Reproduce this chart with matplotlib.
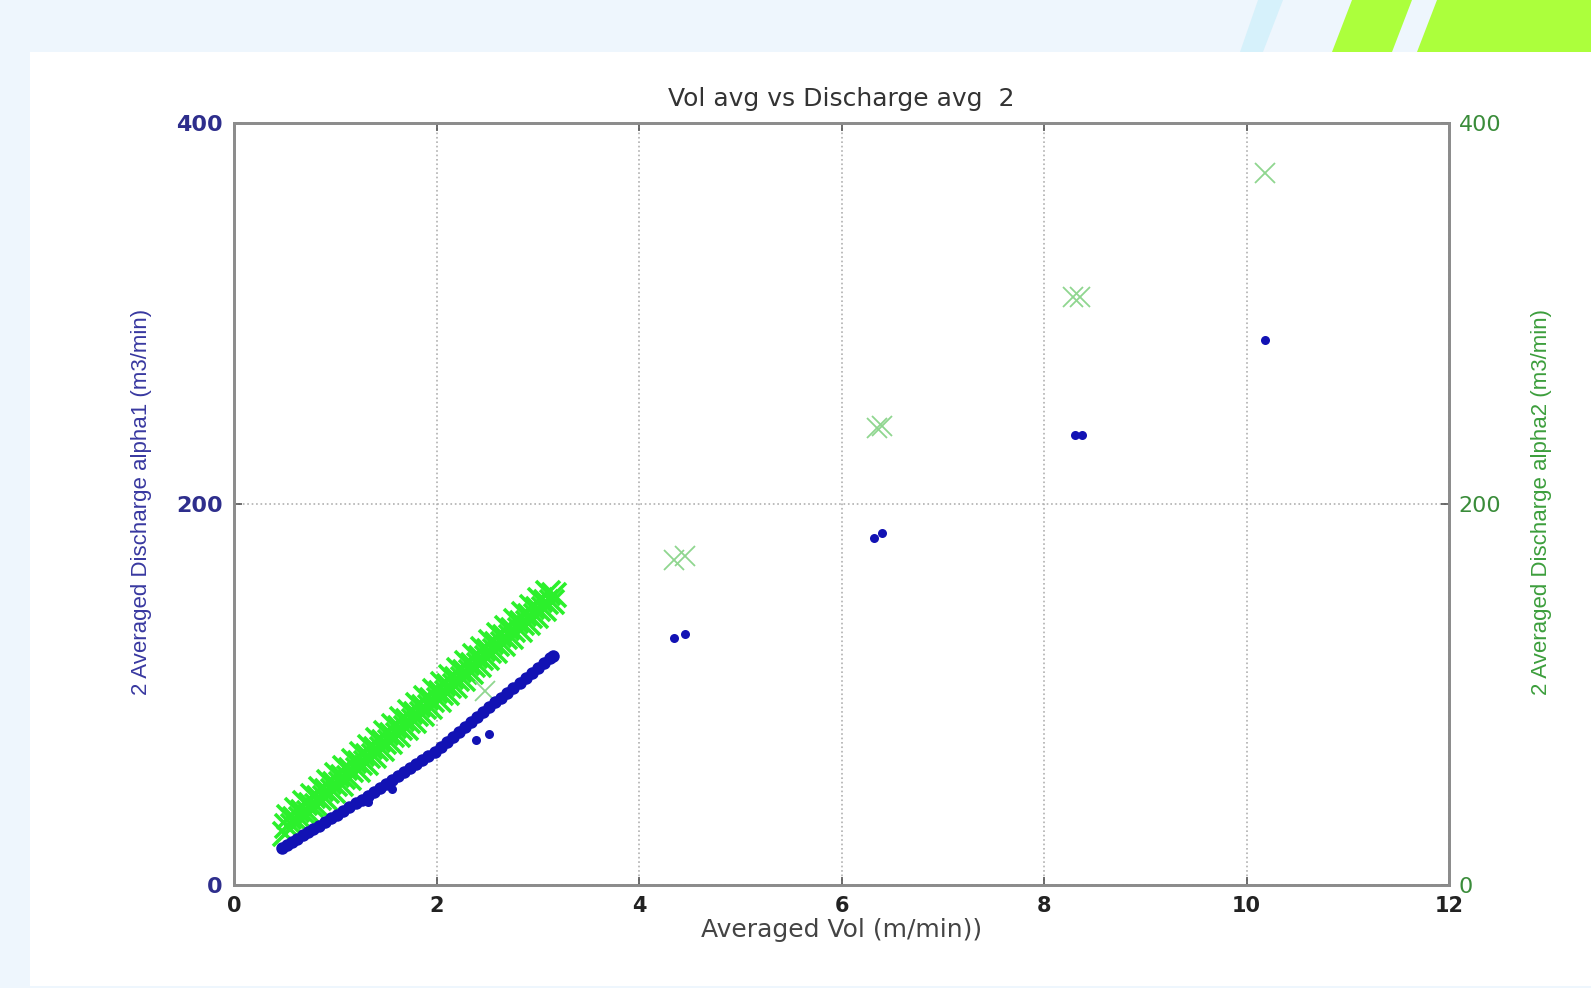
import matplotlib
matplotlib.use("Agg")
import matplotlib.pyplot as plt
from matplotlib.patches import Rectangle, Polygon

# values (Averaged Vol in m/min, discharge in m3/min)
vol_alpha1 = [0.47, 0.52, 0.57, 0.62, 0.68, 0.73, 0.78, 0.84, 0.90, 0.96,
              1.02, 1.08, 1.14, 1.20, 1.26, 1.32, 1.38, 1.44, 1.50, 1.56,
              1.62, 1.68, 1.74, 1.80, 1.86, 1.92, 1.98, 2.04, 2.10, 2.16,
              2.22, 2.28, 2.34, 2.40, 2.46, 2.52, 2.58, 2.64, 2.70, 2.76,
              2.82, 2.88, 2.94, 3.00, 3.06, 3.12, 3.15]
discharge_alpha1 = [19.5, 21.0, 22.5, 24.2, 26.0, 27.6, 29.2, 31.0, 33.0, 34.9,
                    36.8, 38.8, 40.8, 42.8, 44.7, 46.6, 48.8, 51.0, 53.0, 55.2,
                    57.3, 59.4, 61.5, 63.6, 65.8, 67.9, 70.0, 72.6, 75.2, 77.8,
                    80.3, 82.9, 85.5, 88.1, 90.7, 93.2, 95.8, 98.4, 101.0, 103.6,
                    106.1, 108.7, 111.3, 113.9, 116.4, 119.0, 120.0]

# scattered blue points off the main band
vol_alpha1_extra = [1.32, 1.56, 2.39, 2.52, 4.35, 4.45, 6.32, 6.40, 8.31, 8.37, 10.18]
discharge_alpha1_extra = [43.5, 50.3, 76.0, 79.5, 129.7, 131.8, 182.4, 184.8, 236.0, 236.2, 286.0]

# green band, upper and lower edge of the crosses
vol_alpha2 = [0.50, 0.54, 0.58, 0.62, 0.66, 0.70, 0.74, 0.78, 0.82, 0.86,
              0.90, 0.94, 0.98, 1.02, 1.06, 1.10, 1.14, 1.18, 1.22, 1.26,
              1.30, 1.34, 1.38, 1.42, 1.46, 1.50, 1.54, 1.58, 1.62, 1.66,
              1.70, 1.74, 1.78, 1.82, 1.86, 1.90, 1.94, 1.98, 2.02, 2.06,
              2.10, 2.14, 2.18, 2.22, 2.26, 2.30, 2.34, 2.38, 2.42, 2.46,
              2.50, 2.54, 2.58, 2.62, 2.66, 2.70, 2.74, 2.78, 2.82, 2.86,
              2.90, 2.94, 2.98, 3.02, 3.06, 3.10, 3.14]
discharge_alpha2 = [27.0, 35.5, 30.7, 39.2, 34.4, 42.9, 38.0, 46.6, 41.7, 50.3,
                    45.4, 54.0, 49.1, 57.6, 52.8, 61.3, 56.4, 65.0, 60.1, 68.7,
                    63.8, 72.4, 67.5, 76.0, 71.2, 79.7, 74.8, 83.4, 78.5, 87.1,
                    82.2, 90.8, 85.9, 94.4, 89.6, 98.1, 93.2, 101.8, 96.9, 105.5,
                    100.6, 109.1, 104.3, 112.8, 108.0, 116.5, 111.6, 120.2, 115.3, 123.9,
                    119.0, 127.5, 122.7, 131.2, 126.4, 134.9, 130.0, 138.6, 133.7, 142.3,
                    137.4, 145.9, 141.1, 149.6, 144.8, 153.3, 148.4]
# green band, middle row
vol_alpha2_mid = [0.52, 0.60, 0.68, 0.76, 0.84, 0.92, 1.00, 1.08, 1.16, 1.24,
                  1.32, 1.40, 1.48, 1.56, 1.64, 1.72, 1.80, 1.88, 1.96, 2.04,
                  2.12, 2.20, 2.28, 2.36, 2.44, 2.52, 2.60, 2.68, 2.76, 2.84,
                  2.92, 3.00, 3.08, 3.16]
discharge_alpha2_mid = [31.0, 34.6, 38.3, 42.0, 45.7, 49.3, 53.0, 56.7, 60.4, 64.1,
                        67.7, 71.4, 75.1, 78.8, 82.4, 86.1, 89.8, 93.5, 97.2, 100.8,
                        104.5, 108.2, 111.9, 115.6, 119.2, 122.9, 126.6, 130.3, 133.9, 137.6,
                        141.3, 145.0, 148.7, 152.3]

# scattered green points
vol_alpha2_extra = [2.48, 4.35, 4.45, 6.35, 6.40, 8.29, 8.35, 10.18]
discharge_alpha2_extra = [102.0, 170.5, 172.6, 239.7, 240.7, 308.9, 308.4, 373.5]

x_ticks = [0, 2, 4, 6, 8, 10, 12]
y_ticks = [0, 200, 400]

blue = '#1212b4'
green = '#2cf02c'
pale_green = '#8fd68f'
left_col = '#2e2e8c'
right_col = '#3a8c3a'

fig = plt.figure(figsize=(15.91, 9.88), dpi=100)
fig.patch.set_facecolor('#eef6fd')

# slide background: white panel plus the decorative stripes at the top right
fig.patches.append(Rectangle((30 / 1591, 2 / 988), 1 - 30 / 1591, (986 - 52) / 988,
                             transform=fig.transFigure, facecolor='white',
                             edgecolor='none', zorder=-5))
def px(x, y):
    return (x / 1591, 1 - y / 988)
for pts, col in [([(1240, 52), (1263, 52), (1283, 0), (1258, 0)], '#d6f1fb'),
                 ([(1332, 52), (1392, 52), (1412, 0), (1352, 0)], '#acff3c'),
                 ([(1417, 52), (1591, 52), (1591, 0), (1437, 0)], '#acff3c')]:
    fig.patches.append(Polygon([px(*p) for p in pts], closed=True,
                               transform=fig.transFigure, facecolor=col,
                               edgecolor='none', zorder=-5))

ax = fig.add_axes([0.1471, 0.1043, 0.7637, 0.7712])
ax2 = ax.twinx()

# both series share the same 0-400 range, so draw them on one axes to control overlap
ax.plot(vol_alpha2, discharge_alpha2, 'x', color=green, ms=17, mew=2.6, zorder=2)
ax.plot(vol_alpha2_mid, discharge_alpha2_mid, 'x', color=green, ms=17, mew=2.6, zorder=2)
ax.plot(vol_alpha2_extra, discharge_alpha2_extra, 'x', color=pale_green, ms=15, mew=1.3, zorder=2)
ax.plot(vol_alpha1, discharge_alpha1, 'o', color=blue, ms=9, mew=0, zorder=3)
ax.plot(vol_alpha1_extra, discharge_alpha1_extra, 'o', color=blue, ms=6.5, mew=0, zorder=3)

for a in (ax, ax2):
    a.set_xlim(0, 12)
    a.set_ylim(0, 400)
    a.set_yticks(y_ticks)
    for s in a.spines.values():
        s.set_color('#8c8c8c')
        s.set_linewidth(2)
ax.set_facecolor('white')
ax2.set_facecolor('none')
ax.set_xticks(x_ticks)
ax.grid(True, linestyle=':', color='#b0b0b0', linewidth=1.2)
ax.set_axisbelow(True)

ax.tick_params(axis='x', direction='in', length=6, width=1.2, color='#555555',
               pad=8, top=True, labelsize=15, labelcolor='#222222')
ax.tick_params(axis='y', direction='in', length=6, width=1.2, color='#555555',
               pad=8, labelsize=16, labelcolor=left_col)
ax2.tick_params(axis='y', direction='in', length=6, width=1.2, color='#555555',
                pad=7, labelsize=16, labelcolor=right_col)
for lab in ax.get_xticklabels() + ax.get_yticklabels():
    lab.set_fontweight('bold')
    lab.set_family('DejaVu Sans')
for lab in ax2.get_yticklabels():
    lab.set_family('DejaVu Sans')

ax.set_title('Vol avg vs Discharge avg  2', fontsize=18, color='#333333',
             family='DejaVu Sans', pad=12)
ax.set_xlabel('Averaged Vol (m/min))', fontsize=18, color='#444444', family='DejaVu Sans')
ax.xaxis.set_label_coords(0.5, -0.043)
ax.set_ylabel('2 Averaged Discharge alpha1 (m3/min)', fontsize=16, color='#3838a0',
              family='Liberation Sans')
ax.yaxis.set_label_coords(-0.0675, 0.503)
ax2.set_ylabel('2 Averaged Discharge alpha2 (m3/min)', fontsize=16, color='#3c9e3c',
               family='Liberation Sans', rotation=90)
ax2.yaxis.set_label_coords(1.0675, 0.503)

fig.savefig('out.png', dpi=100, facecolor=fig.get_facecolor())
